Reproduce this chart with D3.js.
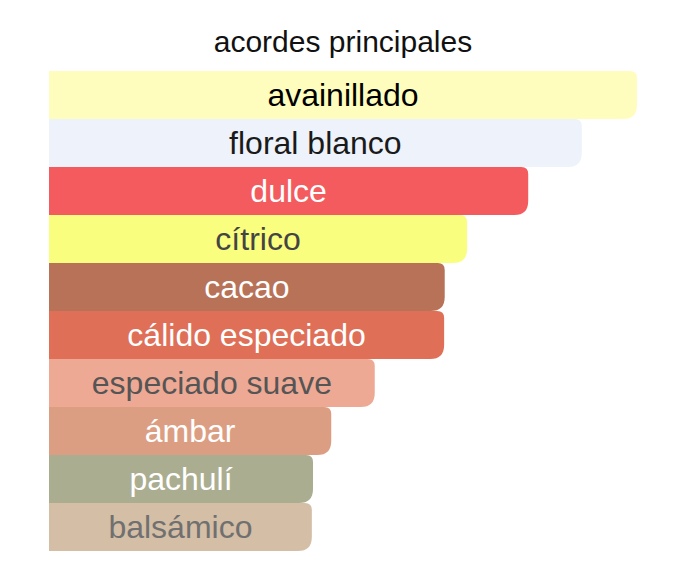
<!DOCTYPE html>
<html>
<head>
<meta charset="utf-8">
<script src="https://cdn.jsdelivr.net/npm/d3@7"></script>
<style>
  body { margin: 0; background: #fff; }
  svg { display: block; font-family: "Liberation Sans", Arial, Helvetica, sans-serif; }
</style>
</head>
<body>
<div id="chart-section"></div>
<script>
// data ------------------------------------------------------------------
var accords = ["avainillado", "floral blanco", "dulce", "cítrico", "cacao",
               "cálido especiado", "especiado suave", "ámbar", "pachulí", "balsámico"];
var strength = [100, 90.6, 81.5, 71.1, 67.3, 67.2, 55.4, 48, 44.9, 44.7];
var barColors = ["#fffdbd", "#edf2fb", "#f45b5e", "#f9fe7e", "#b87257",
                 "#df6f57", "#eea994", "#dc9e82", "#abad91", "#d4bea5"];
var textColors = ["#000000", "#1a1a1a", "#ffffff", "#444444", "#ffffff",
                  "#ffffff", "#555555", "#ffffff", "#ffffff", "#707070"];
var title = "acordes principales";

// settings --------------------------------------------------------------
var svgScreen = { width: 688, height: 574 };
var svgMargin = { top: 71, bottom: 23, left: 49, right: 51 };

var xScale = d3.scaleLinear()
  .domain([0, 100])
  .range([svgMargin.left, svgScreen.width - svgMargin.right]);

var yScale = d3.scaleBand()
  .domain(accords)
  .range([svgMargin.top, svgScreen.height - svgMargin.bottom])
  .padding(0);

// bar with small top-right and bigger bottom-right corner
var barPath = function(x0, x1, y0, y1){
  var rt = 7, rb = 14;
  return "M" + x0 + "," + y0 +
         "H" + (x1 - rt) +
         "Q" + x1 + "," + y0 + " " + x1 + "," + (y0 + rt) +
         "V" + (y1 - rb) +
         "Q" + x1 + "," + y1 + " " + (x1 - rb) + "," + y1 +
         "H" + x0 + "Z";
};

var svg = d3.select("#chart-section")
  .append("svg")
  .attr("width", svgScreen.width)
  .attr("height", svgScreen.height);

svg.append("text")
  .attr("x", 343)
  .attr("y", 52)
  .attr("text-anchor", "middle")
  .attr("font-size", 30)
  .attr("fill", "#111")
  .text(title);

var rows = svg.append("g")
  .attr("class", "bars")
  .selectAll("g")
  .data(accords)
  .enter()
  .append("g");

rows.append("path")
  .attr("d", function(d, i){
    return barPath(xScale(0), xScale(strength[i]), yScale(d), yScale(d) + yScale.bandwidth());
  })
  .attr("fill", function(d, i){ return barColors[i]; });

rows.append("text")
  .attr("x", function(d, i){ return (xScale(0) + xScale(strength[i])) / 2; })
  .attr("y", function(d){ return yScale(d) + yScale.bandwidth() / 2; })
  .attr("dy", "0.33em")
  .attr("text-anchor", "middle")
  .attr("font-size", 32)
  .attr("fill", function(d, i){ return textColors[i]; })
  .text(function(d){ return d; });
</script>
</body>
</html>
